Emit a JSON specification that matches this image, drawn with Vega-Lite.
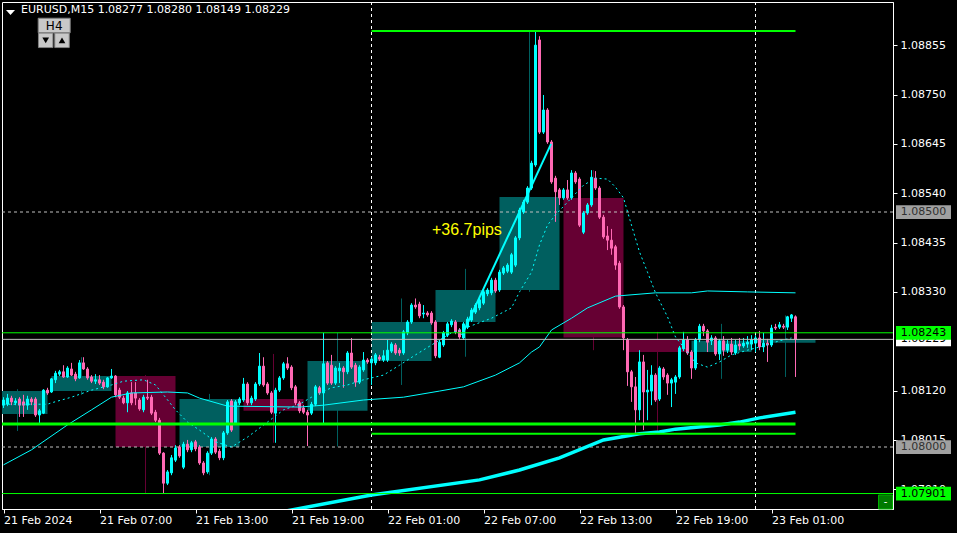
{
"$schema": "https://vega.github.io/schema/vega-lite/v6.json",
"width": 891, "height": 507,
"autosize": {"type": "none"},
"padding": {"left": 2, "top": 2, "right": 64, "bottom": 24},
"background": "#000000",
"title": {"text": "EURUSD,M15  1.08277 1.08280 1.08149 1.08229", "anchor": "start", "frame": "group", "offset": -13, "dx": 19, "color": "#ffffff", "font": "DejaVu Sans", "fontSize": 11, "fontWeight": "normal"},
"config": {"view": {"stroke": "#ffffff", "strokeWidth": 1, "fill": "#000000"}, "font": "DejaVu Sans", "scale": {"continuousPadding": 0}},
"datasets": {
"h4": [
{"t0":-4,"t1":11,"tm":3.5,"o":1.08070,"h":1.08123,"l":1.08034,"c":1.08119},
{"t0":12,"t1":27,"tm":19.5,"o":1.08119,"h":1.08191,"l":1.08111,"c":1.08151},
{"t0":28,"t1":43,"tm":35.5,"o":1.08151,"h":1.08153,"l":1.07901,"c":1.08000},
{"t0":44,"t1":59,"tm":51.5,"o":1.08000,"h":1.08113,"l":1.07940,"c":1.08102},
{"t0":60,"t1":75,"tm":67.5,"o":1.08102,"h":1.08198,"l":1.08009,"c":1.08077},
{"t0":76,"t1":91,"tm":83.5,"o":1.08077,"h":1.08243,"l":1.08001,"c":1.08183},
{"t0":92,"t1":107,"tm":99.5,"o":1.08183,"h":1.08316,"l":1.08132,"c":1.08266},
{"t0":108,"t1":123,"tm":115.5,"o":1.08266,"h":1.08379,"l":1.08192,"c":1.08334},
{"t0":124,"t1":139,"tm":131.5,"o":1.08334,"h":1.08885,"l":1.08330,"c":1.08532},
{"t0":140,"t1":155,"tm":147.5,"o":1.08530,"h":1.08589,"l":1.08206,"c":1.08233},
{"t0":156,"t1":171,"tm":163.5,"o":1.08228,"h":1.08245,"l":1.08030,"c":1.08202},
{"t0":172,"t1":187,"tm":179.5,"o":1.08202,"h":1.08262,"l":1.08145,"c":1.08226},
{"t0":188,"t1":203,"tm":195.5,"o":1.08222,"h":1.08280,"l":1.08149,"c":1.08229}
],
"bars": [
{"i":0,"o":1.08089,"h":1.08106,"l":1.08083,"c":1.08100},
{"i":1,"o":1.08091,"h":1.08113,"l":1.08087,"c":1.08104},
{"i":2,"o":1.08104,"h":1.08109,"l":1.08089,"c":1.08096},
{"i":3,"o":1.08094,"h":1.08104,"l":1.08089,"c":1.08098},
{"i":4,"o":1.08102,"h":1.08106,"l":1.08064,"c":1.08089},
{"i":5,"o":1.08096,"h":1.08111,"l":1.08064,"c":1.08089},
{"i":6,"o":1.08089,"h":1.08109,"l":1.08079,"c":1.08102},
{"i":7,"o":1.08102,"h":1.08106,"l":1.08089,"c":1.08096},
{"i":8,"o":1.08102,"h":1.08106,"l":1.08064,"c":1.08068},
{"i":9,"o":1.08068,"h":1.08081,"l":1.08051,"c":1.08077},
{"i":10,"o":1.08072,"h":1.08123,"l":1.08070,"c":1.08121},
{"i":11,"o":1.08121,"h":1.08126,"l":1.08111,"c":1.08115},
{"i":12,"o":1.08117,"h":1.08147,"l":1.08115,"c":1.08145},
{"i":13,"o":1.08143,"h":1.08162,"l":1.08136,"c":1.08157},
{"i":14,"o":1.08155,"h":1.08164,"l":1.08151,"c":1.08160},
{"i":15,"o":1.08160,"h":1.08174,"l":1.08147,"c":1.08149},
{"i":16,"o":1.08149,"h":1.08172,"l":1.08147,"c":1.08168},
{"i":17,"o":1.08166,"h":1.08179,"l":1.08151,"c":1.08153},
{"i":18,"o":1.08155,"h":1.08160,"l":1.08140,"c":1.08145},
{"i":19,"o":1.08147,"h":1.08185,"l":1.08145,"c":1.08179},
{"i":20,"o":1.08179,"h":1.08191,"l":1.08164,"c":1.08166},
{"i":21,"o":1.08166,"h":1.08170,"l":1.08143,"c":1.08147},
{"i":22,"o":1.08149,"h":1.08153,"l":1.08136,"c":1.08140},
{"i":23,"o":1.08140,"h":1.08155,"l":1.08134,"c":1.08143},
{"i":24,"o":1.08143,"h":1.08153,"l":1.08132,"c":1.08136},
{"i":25,"o":1.08138,"h":1.08143,"l":1.08123,"c":1.08128},
{"i":26,"o":1.08128,"h":1.08149,"l":1.08126,"c":1.08147},
{"i":27,"o":1.08147,"h":1.08166,"l":1.08145,"c":1.08151},
{"i":28,"o":1.08151,"h":1.08153,"l":1.08106,"c":1.08111},
{"i":29,"o":1.08121,"h":1.08126,"l":1.08102,"c":1.08106},
{"i":30,"o":1.08104,"h":1.08109,"l":1.08091,"c":1.08094},
{"i":31,"o":1.08094,"h":1.08119,"l":1.08074,"c":1.08115},
{"i":32,"o":1.08115,"h":1.08138,"l":1.08089,"c":1.08094},
{"i":33,"o":1.08115,"h":1.08138,"l":1.08089,"c":1.08104},
{"i":34,"o":1.08100,"h":1.08104,"l":1.08077,"c":1.08081},
{"i":35,"o":1.08079,"h":1.08111,"l":1.08074,"c":1.08106},
{"i":36,"o":1.08106,"h":1.08143,"l":1.08100,"c":1.08104},
{"i":37,"o":1.08106,"h":1.08111,"l":1.08068,"c":1.08072},
{"i":38,"o":1.08074,"h":1.08079,"l":1.08053,"c":1.08057},
{"i":39,"o":1.08057,"h":1.08062,"l":1.07983,"c":1.07987},
{"i":40,"o":1.07987,"h":1.07989,"l":1.07901,"c":1.07923},
{"i":41,"o":1.07923,"h":1.07951,"l":1.07919,"c":1.07947},
{"i":42,"o":1.07945,"h":1.07983,"l":1.07940,"c":1.07977},
{"i":43,"o":1.07972,"h":1.08004,"l":1.07968,"c":1.07998},
{"i":44,"o":1.08000,"h":1.08004,"l":1.07977,"c":1.07981},
{"i":45,"o":1.07957,"h":1.08011,"l":1.07953,"c":1.08006},
{"i":46,"o":1.08006,"h":1.08015,"l":1.07989,"c":1.07994},
{"i":47,"o":1.07994,"h":1.08013,"l":1.07989,"c":1.08009},
{"i":48,"o":1.08011,"h":1.08015,"l":1.07991,"c":1.07996},
{"i":49,"o":1.08000,"h":1.08004,"l":1.07962,"c":1.07966},
{"i":50,"o":1.07966,"h":1.07970,"l":1.07940,"c":1.07945},
{"i":51,"o":1.07947,"h":1.07991,"l":1.07943,"c":1.07987},
{"i":52,"o":1.07987,"h":1.08021,"l":1.07983,"c":1.08017},
{"i":53,"o":1.08017,"h":1.08021,"l":1.07985,"c":1.07989},
{"i":54,"o":1.07991,"h":1.07996,"l":1.07972,"c":1.07977},
{"i":55,"o":1.07977,"h":1.08034,"l":1.07972,"c":1.08030},
{"i":56,"o":1.08030,"h":1.08100,"l":1.08026,"c":1.08096},
{"i":57,"o":1.08098,"h":1.08102,"l":1.08032,"c":1.08036},
{"i":58,"o":1.08051,"h":1.08100,"l":1.08047,"c":1.08096},
{"i":59,"o":1.08094,"h":1.08106,"l":1.08089,"c":1.08102},
{"i":60,"o":1.08100,"h":1.08147,"l":1.08096,"c":1.08134},
{"i":61,"o":1.08134,"h":1.08138,"l":1.08089,"c":1.08094},
{"i":62,"o":1.08094,"h":1.08109,"l":1.08089,"c":1.08104},
{"i":63,"o":1.08102,"h":1.08138,"l":1.08098,"c":1.08134},
{"i":64,"o":1.08134,"h":1.08200,"l":1.08130,"c":1.08172},
{"i":65,"o":1.08172,"h":1.08191,"l":1.08128,"c":1.08132},
{"i":66,"o":1.08134,"h":1.08138,"l":1.08111,"c":1.08115},
{"i":67,"o":1.08115,"h":1.08119,"l":1.08070,"c":1.08074},
{"i":68,"o":1.08072,"h":1.08126,"l":1.08009,"c":1.08121},
{"i":69,"o":1.08121,"h":1.08151,"l":1.08117,"c":1.08147},
{"i":70,"o":1.08147,"h":1.08181,"l":1.08143,"c":1.08177},
{"i":71,"o":1.08177,"h":1.08191,"l":1.08164,"c":1.08168},
{"i":72,"o":1.08170,"h":1.08174,"l":1.08121,"c":1.08126},
{"i":73,"o":1.08128,"h":1.08132,"l":1.08089,"c":1.08094},
{"i":74,"o":1.08094,"h":1.08098,"l":1.08072,"c":1.08077},
{"i":75,"o":1.08083,"h":1.08089,"l":1.08070,"c":1.08074},
{"i":76,"o":1.08074,"h":1.08079,"l":1.08002,"c":1.08068},
{"i":77,"o":1.08072,"h":1.08096,"l":1.08068,"c":1.08091},
{"i":78,"o":1.08091,"h":1.08132,"l":1.08087,"c":1.08128},
{"i":79,"o":1.08126,"h":1.08130,"l":1.08111,"c":1.08115},
{"i":80,"o":1.08115,"h":1.08243,"l":1.08051,"c":1.08177},
{"i":81,"o":1.08179,"h":1.08183,"l":1.08132,"c":1.08136},
{"i":82,"o":1.08174,"h":1.08196,"l":1.08132,"c":1.08136},
{"i":83,"o":1.08136,"h":1.08172,"l":1.08132,"c":1.08168},
{"i":84,"o":1.08162,"h":1.08179,"l":1.08136,"c":1.08168},
{"i":85,"o":1.08168,"h":1.08172,"l":1.08126,"c":1.08160},
{"i":86,"o":1.08160,"h":1.08204,"l":1.08155,"c":1.08200},
{"i":87,"o":1.08200,"h":1.08232,"l":1.08166,"c":1.08170},
{"i":88,"o":1.08174,"h":1.08179,"l":1.08128,"c":1.08138},
{"i":89,"o":1.08138,"h":1.08174,"l":1.08134,"c":1.08170},
{"i":90,"o":1.08164,"h":1.08202,"l":1.08160,"c":1.08185},
{"i":91,"o":1.08185,"h":1.08189,"l":1.08177,"c":1.08181},
{"i":92,"o":1.08179,"h":1.08191,"l":1.08132,"c":1.08187},
{"i":93,"o":1.08179,"h":1.08200,"l":1.08174,"c":1.08196},
{"i":94,"o":1.08191,"h":1.08196,"l":1.08183,"c":1.08187},
{"i":95,"o":1.08185,"h":1.08206,"l":1.08181,"c":1.08194},
{"i":96,"o":1.08185,"h":1.08228,"l":1.08181,"c":1.08206},
{"i":97,"o":1.08204,"h":1.08223,"l":1.08200,"c":1.08219},
{"i":98,"o":1.08217,"h":1.08221,"l":1.08196,"c":1.08200},
{"i":99,"o":1.08206,"h":1.08211,"l":1.08194,"c":1.08200},
{"i":100,"o":1.08200,"h":1.08249,"l":1.08196,"c":1.08245},
{"i":101,"o":1.08243,"h":1.08270,"l":1.08238,"c":1.08266},
{"i":102,"o":1.08266,"h":1.08306,"l":1.08262,"c":1.08302},
{"i":103,"o":1.08302,"h":1.08316,"l":1.08294,"c":1.08298},
{"i":104,"o":1.08304,"h":1.08309,"l":1.08274,"c":1.08279},
{"i":105,"o":1.08283,"h":1.08302,"l":1.08274,"c":1.08285},
{"i":106,"o":1.08285,"h":1.08289,"l":1.08277,"c":1.08281},
{"i":107,"o":1.08285,"h":1.08289,"l":1.08260,"c":1.08264},
{"i":108,"o":1.08266,"h":1.08270,"l":1.08189,"c":1.08194},
{"i":109,"o":1.08191,"h":1.08228,"l":1.08189,"c":1.08223},
{"i":110,"o":1.08217,"h":1.08247,"l":1.08213,"c":1.08243},
{"i":111,"o":1.08238,"h":1.08266,"l":1.08234,"c":1.08262},
{"i":112,"o":1.08260,"h":1.08272,"l":1.08255,"c":1.08268},
{"i":113,"o":1.08266,"h":1.08270,"l":1.08240,"c":1.08245},
{"i":114,"o":1.08249,"h":1.08253,"l":1.08230,"c":1.08234},
{"i":115,"o":1.08232,"h":1.08266,"l":1.08228,"c":1.08262},
{"i":116,"o":1.08255,"h":1.08277,"l":1.08251,"c":1.08272},
{"i":117,"o":1.08270,"h":1.08296,"l":1.08266,"c":1.08291},
{"i":118,"o":1.08287,"h":1.08306,"l":1.08283,"c":1.08302},
{"i":119,"o":1.08296,"h":1.08317,"l":1.08291,"c":1.08313},
{"i":120,"o":1.08306,"h":1.08334,"l":1.08302,"c":1.08330},
{"i":121,"o":1.08326,"h":1.08338,"l":1.08321,"c":1.08334},
{"i":122,"o":1.08328,"h":1.08360,"l":1.08323,"c":1.08355},
{"i":123,"o":1.08355,"h":1.08360,"l":1.08328,"c":1.08332},
{"i":124,"o":1.08334,"h":1.08377,"l":1.08330,"c":1.08372},
{"i":125,"o":1.08370,"h":1.08385,"l":1.08366,"c":1.08381},
{"i":126,"o":1.08374,"h":1.08391,"l":1.08370,"c":1.08387},
{"i":127,"o":1.08372,"h":1.08413,"l":1.08368,"c":1.08409},
{"i":128,"o":1.08387,"h":1.08449,"l":1.08383,"c":1.08445},
{"i":129,"o":1.08445,"h":1.08509,"l":1.08440,"c":1.08504},
{"i":130,"o":1.08500,"h":1.08526,"l":1.08496,"c":1.08521},
{"i":131,"o":1.08521,"h":1.08555,"l":1.08517,"c":1.08551},
{"i":132,"o":1.08551,"h":1.08609,"l":1.08547,"c":1.08604},
{"i":133,"o":1.08600,"h":1.08885,"l":1.08596,"c":1.08855},
{"i":134,"o":1.08866,"h":1.08874,"l":1.08666,"c":1.08670},
{"i":135,"o":1.08670,"h":1.08749,"l":1.08666,"c":1.08717},
{"i":136,"o":1.08717,"h":1.08721,"l":1.08645,"c":1.08649},
{"i":137,"o":1.08649,"h":1.08653,"l":1.08560,"c":1.08564},
{"i":138,"o":1.08572,"h":1.08577,"l":1.08479,"c":1.08543},
{"i":139,"o":1.08547,"h":1.08551,"l":1.08515,"c":1.08530},
{"i":140,"o":1.08530,"h":1.08551,"l":1.08526,"c":1.08547},
{"i":141,"o":1.08547,"h":1.08568,"l":1.08526,"c":1.08530},
{"i":142,"o":1.08530,"h":1.08589,"l":1.08526,"c":1.08583},
{"i":143,"o":1.08583,"h":1.08587,"l":1.08560,"c":1.08564},
{"i":144,"o":1.08570,"h":1.08574,"l":1.08468,"c":1.08472},
{"i":145,"o":1.08457,"h":1.08502,"l":1.08453,"c":1.08498},
{"i":146,"o":1.08498,"h":1.08519,"l":1.08494,"c":1.08515},
{"i":147,"o":1.08515,"h":1.08589,"l":1.08511,"c":1.08574},
{"i":148,"o":1.08572,"h":1.08587,"l":1.08547,"c":1.08551},
{"i":149,"o":1.08551,"h":1.08555,"l":1.08485,"c":1.08489},
{"i":150,"o":1.08489,"h":1.08494,"l":1.08443,"c":1.08447},
{"i":151,"o":1.08449,"h":1.08470,"l":1.08419,"c":1.08440},
{"i":152,"o":1.08440,"h":1.08464,"l":1.08409,"c":1.08423},
{"i":153,"o":1.08426,"h":1.08430,"l":1.08377,"c":1.08387},
{"i":154,"o":1.08391,"h":1.08396,"l":1.08294,"c":1.08298},
{"i":155,"o":1.08298,"h":1.08302,"l":1.08206,"c":1.08232},
{"i":156,"o":1.08228,"h":1.08232,"l":1.08130,"c":1.08160},
{"i":157,"o":1.08160,"h":1.08164,"l":1.08096,"c":1.08128},
{"i":158,"o":1.08128,"h":1.08149,"l":1.08030,"c":1.08079},
{"i":159,"o":1.08079,"h":1.08206,"l":1.08057,"c":1.08181},
{"i":160,"o":1.08181,"h":1.08196,"l":1.08036,"c":1.08117},
{"i":161,"o":1.08117,"h":1.08164,"l":1.08057,"c":1.08121},
{"i":162,"o":1.08119,"h":1.08174,"l":1.08089,"c":1.08153},
{"i":163,"o":1.08153,"h":1.08157,"l":1.08096,"c":1.08100},
{"i":164,"o":1.08102,"h":1.08172,"l":1.08098,"c":1.08168},
{"i":165,"o":1.08166,"h":1.08170,"l":1.08143,"c":1.08149},
{"i":166,"o":1.08153,"h":1.08157,"l":1.08111,"c":1.08136},
{"i":167,"o":1.08136,"h":1.08147,"l":1.08085,"c":1.08143},
{"i":168,"o":1.08138,"h":1.08153,"l":1.08113,"c":1.08149},
{"i":169,"o":1.08149,"h":1.08215,"l":1.08145,"c":1.08211},
{"i":170,"o":1.08209,"h":1.08245,"l":1.08204,"c":1.08228},
{"i":171,"o":1.08228,"h":1.08236,"l":1.08196,"c":1.08200},
{"i":172,"o":1.08202,"h":1.08206,"l":1.08145,"c":1.08168},
{"i":173,"o":1.08168,"h":1.08232,"l":1.08164,"c":1.08228},
{"i":174,"o":1.08228,"h":1.08262,"l":1.08223,"c":1.08257},
{"i":175,"o":1.08257,"h":1.08262,"l":1.08236,"c":1.08247},
{"i":176,"o":1.08247,"h":1.08251,"l":1.08202,"c":1.08223},
{"i":177,"o":1.08226,"h":1.08238,"l":1.08217,"c":1.08232},
{"i":178,"o":1.08232,"h":1.08236,"l":1.08194,"c":1.08198},
{"i":179,"o":1.08198,"h":1.08230,"l":1.08185,"c":1.08226},
{"i":180,"o":1.08226,"h":1.08236,"l":1.08194,"c":1.08206},
{"i":181,"o":1.08206,"h":1.08228,"l":1.08200,"c":1.08219},
{"i":182,"o":1.08219,"h":1.08232,"l":1.08196,"c":1.08202},
{"i":183,"o":1.08200,"h":1.08228,"l":1.08196,"c":1.08217},
{"i":184,"o":1.08219,"h":1.08232,"l":1.08206,"c":1.08215},
{"i":185,"o":1.08215,"h":1.08232,"l":1.08211,"c":1.08221},
{"i":186,"o":1.08219,"h":1.08236,"l":1.08211,"c":1.08223},
{"i":187,"o":1.08219,"h":1.08238,"l":1.08206,"c":1.08228},
{"i":188,"o":1.08221,"h":1.08238,"l":1.08202,"c":1.08232},
{"i":189,"o":1.08232,"h":1.08247,"l":1.08206,"c":1.08213},
{"i":190,"o":1.08213,"h":1.08243,"l":1.08202,"c":1.08221},
{"i":191,"o":1.08221,"h":1.08230,"l":1.08181,"c":1.08217},
{"i":192,"o":1.08217,"h":1.08260,"l":1.08213,"c":1.08253},
{"i":193,"o":1.08255,"h":1.08262,"l":1.08249,"c":1.08253},
{"i":194,"o":1.08255,"h":1.08266,"l":1.08251,"c":1.08260},
{"i":195,"o":1.08257,"h":1.08262,"l":1.08251,"c":1.08255},
{"i":196,"o":1.08255,"h":1.08279,"l":1.08249,"c":1.08277},
{"i":197,"o":1.08274,"h":1.08283,"l":1.08266,"c":1.08281},
{"i":198,"o":1.08277,"h":1.08280,"l":1.08149,"c":1.08229}
],
"fast": [
{"i":0,"p":1.08091},{"i":11,"p":1.08091},{"i":12,"p":1.08094},{"i":17,"p":1.08106},{"i":22,"p":1.08121},{"i":27,"p":1.08132},{"i":30,"p":1.08140},{"i":35,"p":1.08143},{"i":38,"p":1.08132},{"i":40,"p":1.08111},{"i":43,"p":1.08079},{"i":46,"p":1.08053},{"i":49,"p":1.08036},{"i":53,"p":1.08011},{"i":57,"p":1.08000},{"i":61,"p":1.08021},{"i":66,"p":1.08053},{"i":70,"p":1.08079},{"i":74,"p":1.08091},{"i":78,"p":1.08111},{"i":82,"p":1.08126},{"i":86,"p":1.08132},{"i":90,"p":1.08143},{"i":95,"p":1.08153},{"i":99,"p":1.08174},{"i":103,"p":1.08196},{"i":107,"p":1.08217},{"i":112,"p":1.08243},{"i":116,"p":1.08255},{"i":122,"p":1.08274},{"i":127,"p":1.08296},{"i":129,"p":1.08330},{"i":132,"p":1.08372},{"i":134,"p":1.08430},{"i":136,"p":1.08472},{"i":138,"p":1.08494},{"i":142,"p":1.08530},{"i":145,"p":1.08557},{"i":148,"p":1.08572},{"i":151,"p":1.08570},{"i":153,"p":1.08553},{"i":155,"p":1.08530},{"i":157,"p":1.08472},{"i":159,"p":1.08415},{"i":161,"p":1.08372},{"i":163,"p":1.08328},{"i":166,"p":1.08277},{"i":168,"p":1.08234},{"i":171,"p":1.08202},{"i":173,"p":1.08179},{"i":176,"p":1.08170},{"i":179,"p":1.08181},{"i":182,"p":1.08196},{"i":186,"p":1.08206},{"i":190,"p":1.08215},{"i":194,"p":1.08226},{"i":197,"p":1.08232}
],
"mid": [
{"i":0,"p":1.07962},{"i":7,"p":1.07994},{"i":16,"p":1.08047},{"i":22,"p":1.08079},{"i":27,"p":1.08106},{"i":32,"p":1.08115},{"i":41,"p":1.08117},{"i":46,"p":1.08115},{"i":49,"p":1.08104},{"i":56,"p":1.08087},{"i":74,"p":1.08085},{"i":80,"p":1.08089},{"i":90,"p":1.08100},{"i":100,"p":1.08106},{"i":109,"p":1.08119},{"i":115,"p":1.08128},{"i":123,"p":1.08153},{"i":129,"p":1.08179},{"i":132,"p":1.08202},{"i":134,"p":1.08213},{"i":137,"p":1.08249},{"i":142,"p":1.08274},{"i":146,"p":1.08296},{"i":153,"p":1.08321},{"i":163,"p":1.08328},{"i":172,"p":1.08328},{"i":176,"p":1.08332},{"i":186,"p":1.08330},{"i":198,"p":1.08328}
],
"slow": [
{"i":62,"p":1.07850},{"i":92,"p":1.07898},{"i":119,"p":1.07930},{"i":129,"p":1.07951},{"i":139,"p":1.07977},{"i":150,"p":1.08015},{"i":159,"p":1.08028},{"i":164,"p":1.08032},{"i":168,"p":1.08038},{"i":179,"p":1.08047},{"i":184,"p":1.08053},{"i":189,"p":1.08062},{"i":198,"p":1.08074}
],
"bidtag": [
{"p":1.08229,"t":"1.08229","k":"bid"}
],
"tags": [
{"p":1.08500,"t":"1.08500","k":"round"},
{"p":1.08000,"t":"1.08000","k":"round"},
{"p":1.08243,"t":"1.08243","k":"level"},
{"p":1.07901,"t":"1.07901","k":"level"}
]
},
"layer": [
{
"data": {"name": "h4"},
"mark": {"type": "rect", "clip": true},
"encoding": {
"x": {"field": "t0", "type": "quantitative", "title": null,
 "scale": {"domain": [-0.375, 222.375], "nice": false, "zero": false, "padding": 0},
 "axis": {"orient": "bottom", "values": [0,24,48,72,96,120,144,168,192],
  "labelExpr": "['21 Feb 2024','21 Feb 07:00','21 Feb 13:00','21 Feb 19:00','22 Feb 01:00','22 Feb 07:00','22 Feb 13:00','22 Feb 19:00','23 Feb 01:00'][round(datum.value/24)]",
  "labelAlign": "left", "labelBaseline": "top", "labelPadding": 1, "tickSize": 4,
  "tickColor": "#ffffff", "domainColor": "#ffffff", "labelColor": "#ffffff",
  "labelFont": "DejaVu Sans", "labelFontSize": 11, "grid": false,
  "labelFlush": false, "labelOverlap": false, "labelBound": false}},
"x2": {"field": "t1"},
"y": {"field": "o", "type": "quantitative", "title": null,
 "scale": {"domain": [1.0786809, 1.0894681], "nice": false, "zero": false, "padding": 0},
 "axis": {"orient": "right", "values": [1.0791,1.08015,1.0812,1.0833,1.08435,1.0854,1.08645,1.0875,1.08855],
  "format": ".5f", "tickSize": 4, "labelPadding": 3, "labelAlign": "left", "labelBaseline": "middle",
  "tickColor": "#ffffff", "domainColor": "#ffffff", "labelColor": "#ffffff",
  "labelFont": "DejaVu Sans", "labelFontSize": 11, "grid": false,
  "labelFlush": false, "labelOverlap": false, "labelBound": false}},
"y2": {"field": "c"},
"fill": {"condition": {"test": "datum.c >= datum.o", "value": "#005f5f"}, "value": "#660033"}
}
},
{
"data": {"name": "h4"},
"mark": {"type": "rule", "strokeWidth": 1, "clip": true},
"encoding": {
"x": {"field": "tm", "type": "quantitative", "title": null},
"y": {"field": "l", "type": "quantitative", "title": null},
"y2": {"field": "h"},
"color": {"condition": {"test": "datum.c >= datum.o", "value": "#005f5f"}, "value": "#660033"}
}
},
{
"data": {"values": [{"p": 1.085}, {"p": 1.08}]},
"mark": {"type": "rule", "color": "#c0c0c0", "strokeWidth": 1, "strokeDash": [3, 3]},
"encoding": {"y": {"field": "p", "type": "quantitative", "title": null}}
},
{
"data": {"values": [{"i": 92}, {"i": 188}]},
"mark": {"type": "rule", "color": "#ffffff", "strokeWidth": 1, "strokeDash": [3, 3]},
"encoding": {"x": {"field": "i", "type": "quantitative", "title": null}}
},
{
"data": {"name": "bars"},
"mark": {"type": "rule", "strokeWidth": 1},
"encoding": {
"x": {"field": "i", "type": "quantitative", "title": null},
"y": {"field": "l", "type": "quantitative", "title": null},
"y2": {"field": "h"},
"color": {"condition": {"test": "datum.c > datum.o", "value": "#00ffff"}, "value": "#ff69b4"}
}
},
{
"data": {"name": "bars"},
"mark": {"type": "bar", "width": 2, "strokeWidth": 1},
"encoding": {
"x": {"field": "i", "type": "quantitative", "title": null},
"y": {"field": "o", "type": "quantitative", "title": null},
"y2": {"field": "c"},
"fill": {"condition": {"test": "datum.c > datum.o", "value": "#00ffff"}, "value": "#ff69b4"},
"stroke": {"condition": {"test": "datum.c > datum.o", "value": "#00ffff"}, "value": "#ff69b4"}
}
},
{
"data": {"name": "fast"},
"mark": {"type": "line", "color": "#00ffff", "strokeWidth": 1, "strokeDash": [2, 3], "clip": true},
"encoding": {"x": {"field": "i", "type": "quantitative", "title": null}, "y": {"field": "p", "type": "quantitative", "title": null}}
},
{
"data": {"name": "mid"},
"mark": {"type": "line", "color": "#00ffff", "strokeWidth": 1, "clip": true},
"encoding": {"x": {"field": "i", "type": "quantitative", "title": null}, "y": {"field": "p", "type": "quantitative", "title": null}}
},
{
"data": {"name": "slow"},
"mark": {"type": "line", "color": "#00ffff", "strokeWidth": 3.5, "clip": true},
"encoding": {"x": {"field": "i", "type": "quantitative", "title": null}, "y": {"field": "p", "type": "quantitative", "title": null}}
},
{
"data": {"values": [{"i": 114.6, "p": 1.08238}, {"i": 136.9, "p": 1.08645}]},
"mark": {"type": "line", "color": "#00ffff", "strokeWidth": 2},
"encoding": {"x": {"field": "i", "type": "quantitative", "title": null}, "y": {"field": "p", "type": "quantitative", "title": null}}
},
{
"data": {"values": [{"p": 1.08229}]},
"mark": {"type": "rule", "color": "#c0c0c0", "strokeWidth": 1},
"encoding": {"y": {"field": "p", "type": "quantitative", "title": null}}
},
{
"data": {"values": [{"p": 1.08243}, {"p": 1.07901}]},
"mark": {"type": "rule", "color": "#00ff00", "strokeWidth": 1},
"encoding": {"y": {"field": "p", "type": "quantitative", "title": null}}
},
{
"data": {"values": [{"p": 1.08885, "a": 92, "b": 198}, {"p": 1.08028, "a": 92, "b": 198}]},
"mark": {"type": "rule", "color": "#00ff00", "strokeWidth": 2},
"encoding": {"x": {"field": "a", "type": "quantitative", "title": null}, "x2": {"field": "b"}, "y": {"field": "p", "type": "quantitative", "title": null}}
},
{
"data": {"values": [{"p": 1.08049, "a": -0.375, "b": 198}]},
"mark": {"type": "rule", "color": "#00ff00", "strokeWidth": 3},
"encoding": {"x": {"field": "a", "type": "quantitative", "title": null}, "x2": {"field": "b"}, "y": {"field": "p", "type": "quantitative", "title": null}}
},
{
"data": {"values": [{"t": "+36.7pips"}]},
"mark": {"type": "text", "align": "left", "baseline": "middle", "font": "Liberation Sans", "fontSize": 16, "color": "#ffff00"},
"encoding": {"x": {"datum": 107.125, "type": "quantitative"}, "y": {"datum": 1.08461, "type": "quantitative"}, "text": {"field": "t"}}
},
{
"data": {"name": "bidtag"},
"mark": {"type": "point", "shape": "M-1,-0.25H1V0.25H-1Z", "filled": true, "size": 3025, "opacity": 1, "strokeWidth": 0, "color": "#ffffff"},
"encoding": {"x": {"datum": 230, "type": "quantitative"}, "y": {"field": "p", "type": "quantitative", "title": null}}
},
{
"data": {"name": "bidtag"},
"mark": {"type": "text", "align": "center", "baseline": "middle", "font": "DejaVu Sans", "fontSize": 11, "color": "#000000"},
"encoding": {"x": {"datum": 230, "type": "quantitative"}, "y": {"field": "p", "type": "quantitative", "title": null}, "text": {"field": "t"}}
},
{
"data": {"name": "tags"},
"mark": {"type": "point", "shape": "M-1,-0.25H1V0.25H-1Z", "filled": true, "size": 3025, "opacity": 1, "strokeWidth": 0},
"encoding": {
"x": {"datum": 230, "type": "quantitative"},
"y": {"field": "p", "type": "quantitative", "title": null},
"fill": {"field": "k", "type": "nominal", "legend": null, "scale": {"domain": ["round", "level"], "range": ["#a0a0a0", "#00ff00"]}}
}
},
{
"data": {"name": "tags"},
"mark": {"type": "text", "align": "center", "baseline": "middle", "font": "DejaVu Sans", "fontSize": 11},
"encoding": {
"x": {"datum": 230, "type": "quantitative"},
"y": {"field": "p", "type": "quantitative", "title": null},
"text": {"field": "t"},
"fill": {"condition": {"test": "datum.k == 'round'", "value": "#303030"}, "value": "#000000"}
}
},
{
"data": {"values": [{"b": "-"}]},
"mark": {"type": "point", "shape": "square", "filled": true, "size": 196, "opacity": 1, "color": "#007a00", "stroke": "#00b000", "strokeWidth": 1},
"encoding": {"x": {"datum": 220.5, "type": "quantitative"}, "y": {"datum": 1.07883, "type": "quantitative"}}
},
{
"data": {"values": [{"b": "-"}]},
"mark": {"type": "text", "align": "center", "baseline": "middle", "font": "DejaVu Sans", "fontSize": 10, "color": "#ffffff"},
"encoding": {"x": {"datum": 220.5, "type": "quantitative"}, "y": {"datum": 1.07883, "type": "quantitative"}, "text": {"field": "b"}}
},
{
"data": {"values": [{"b": "H4"}]},
"mark": {"type": "point", "shape": "M-1,-0.455H1V0.455H-1Z", "filled": true, "size": 1024, "opacity": 1, "color": "#c8c8c8", "stroke": "#808080", "strokeWidth": 1},
"encoding": {"x": {"datum": 12.675, "type": "quantitative"}, "y": {"datum": 1.088968, "type": "quantitative"}}
},
{
"data": {"values": [{"b": "H4"}]},
"mark": {"type": "text", "align": "center", "baseline": "middle", "font": "DejaVu Sans", "fontSize": 12, "color": "#000000"},
"encoding": {"x": {"datum": 12.675, "type": "quantitative"}, "y": {"datum": 1.088968, "type": "quantitative"}, "text": {"field": "b"}}
},
{
"data": {"values": [{"x": 10.55}, {"x": 14.625}]},
"mark": {"type": "point", "shape": "square", "filled": true, "size": 210, "opacity": 1, "color": "#c8c8c8", "stroke": "#808080", "strokeWidth": 1},
"encoding": {"x": {"field": "x", "type": "quantitative", "title": null}, "y": {"datum": 1.088653, "type": "quantitative"}}
},
{
"data": {"values": [{"b": "down"}]},
"mark": {"type": "point", "shape": "triangle-down", "filled": true, "size": 45, "opacity": 1, "color": "#000000"},
"encoding": {"x": {"datum": 10.55, "type": "quantitative"}, "y": {"datum": 1.088653, "type": "quantitative"}}
},
{
"data": {"values": [{"b": "up"}]},
"mark": {"type": "point", "shape": "triangle-up", "filled": true, "size": 45, "opacity": 1, "color": "#000000"},
"encoding": {"x": {"datum": 14.625, "type": "quantitative"}, "y": {"datum": 1.088653, "type": "quantitative"}}
},
{
"data": {"values": [{"b": "menu"}]},
"mark": {"type": "point", "shape": "M-1,-0.55L1,-0.55L0,0.55Z", "filled": true, "size": 81, "opacity": 1, "color": "#ffffff"},
"encoding": {"x": {"datum": 1.75, "type": "quantitative"}, "y": {"datum": 1.089245, "type": "quantitative"}}
}
]
}
